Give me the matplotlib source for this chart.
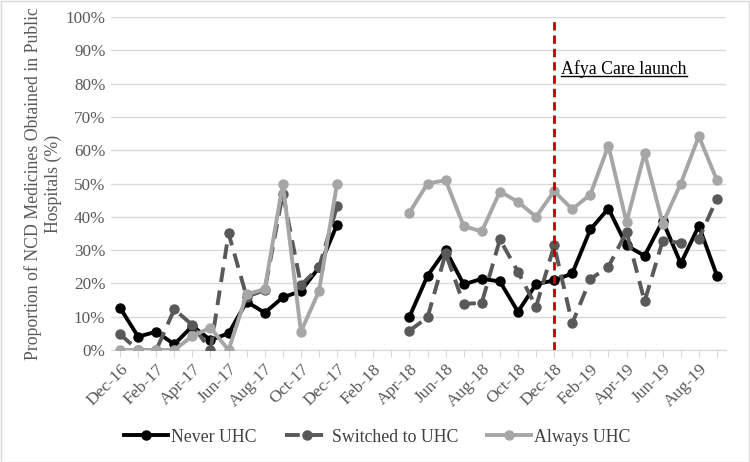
import numpy as np
import matplotlib
matplotlib.use('Agg')
import matplotlib.pyplot as plt
from matplotlib.lines import Line2D
from matplotlib.patches import Rectangle

nan = np.nan

months = ['Dec-16', 'Jan-17', 'Feb-17', 'Mar-17', 'Apr-17', 'May-17', 'Jun-17',
          'Jul-17', 'Aug-17', 'Sep-17', 'Oct-17', 'Nov-17', 'Dec-17', 'Jan-18',
          'Feb-18', 'Mar-18', 'Apr-18', 'May-18', 'Jun-18', 'Jul-18', 'Aug-18',
          'Sep-18', 'Oct-18', 'Nov-18', 'Dec-18', 'Jan-19', 'Feb-19', 'Mar-19',
          'Apr-19', 'May-19', 'Jun-19', 'Jul-19', 'Aug-19', 'Sep-19']

never_uhc = [12.7, 4.0, 5.5, 1.7, 7.2, 3.0, 5.0, 14.5, 11.2, 15.8, 17.7, 24.8, 37.7,
             nan, nan, nan,
             10.0, 22.3, 30.0, 19.7, 21.4, 20.6, 11.5, 19.8, 20.9, 23.0, 36.2, 42.5,
             31.4, 28.3, 38.8, 26.0, 37.3, 22.3]

switched_uhc = [4.7, 0.0, 0.0, 12.2, 7.5, 0.0, 35.0, 16.0, 18.0, 47.0, 19.5, 24.8, 43.2,
                nan, nan, nan,
                5.8, 9.8, 29.0, 13.8, 14.2, 33.2, 23.5, 13.0, 31.4, 8.0, 21.3, 25.0,
                35.5, 14.6, 32.8, 32.2, 33.4, 45.5]

always_uhc = [0.0, 0.0, 0.0, 0.0, 4.2, 6.7, 0.0, 16.7, 18.3, 50.0, 5.5, 17.7, 50.0,
              nan, nan, nan,
              41.3, 50.0, 51.0, 37.2, 35.6, 47.6, 44.5, 40.0, 47.7, 42.3, 46.7, 61.4,
              38.4, 59.1, 38.0, 50.0, 64.2, 51.0]

launch_month = 'Dec-18'

serif = ['Liberation Serif', 'DejaVu Serif']

def main():
    plt.rcParams['font.family'] = serif
    fig = plt.figure(figsize=(7.5, 4.62), dpi=100)
    ax = fig.add_axes([0.148, 0.2424, 0.82, 0.7206])

    x = np.arange(len(months))
    ax.plot(x, never_uhc, color='black', lw=2.8, marker='o', ms=6.5,
            label='Never UHC', zorder=3)
    ax.plot(x, switched_uhc, color='#595959', lw=2.8, marker='o', ms=6.5,
            dashes=(3.8, 2.2), label='Switched to UHC', zorder=3)
    ax.plot(x, always_uhc, color='#A6A6A6', lw=2.8, marker='o', ms=6.5,
            label='Always UHC', zorder=3)

    xl = months.index(launch_month)
    ax.plot([xl, xl], [0, 100], color='#C00000', lw=2, dashes=(3, 1.8), zorder=4)
    txt = ax.text(xl + 0.4, 84.3, 'Afya Care launch', fontsize=12.8,
                  ha='left', va='center', color='black')

    ax.set_xlim(-0.5, len(months) - 0.5)
    ax.set_ylim(0, 100)
    ax.set_yticks(np.arange(0, 101, 10))
    ax.set_yticklabels(['%d%%' % v for v in range(0, 101, 10)], fontsize=12.3,
                       color='#595959')
    ax.set_xticks(x)
    ax.set_xticklabels([m if i % 2 == 0 else '' for i, m in enumerate(months)],
                       rotation=45, ha='right', rotation_mode='anchor',
                       fontsize=12.6, color='#595959')
    ax.tick_params(axis='y', length=0, pad=4)
    ax.tick_params(axis='x', length=5, color='#D9D9D9', pad=3)
    ax.grid(axis='y', color='#D9D9D9', lw=1)
    ax.set_axisbelow(True)
    for s in ['top', 'right', 'left']:
        ax.spines[s].set_visible(False)
    ax.spines['bottom'].set_color('#D9D9D9')

    ax.set_ylabel('Proportion of NCD Medicines Obtained in Public\nHospitals (%)',
                  fontsize=12.8, color='#595959',
                  multialignment='center', linespacing=1.25)
    ax.yaxis.set_label_coords(-0.079, 0.5)

    fig.legend(loc='center', bbox_to_anchor=(0.503, 0.054), ncol=3, frameon=False,
               fontsize=12.8, handlelength=2.5, handletextpad=0.15, columnspacing=1.6,
               labelcolor='#404040')

    # underline the launch text
    fig.canvas.draw()
    bb = txt.get_window_extent().transformed(fig.transFigure.inverted())
    fig.add_artist(Line2D([bb.x0, bb.x1], [bb.y0 + 0.004, bb.y0 + 0.004],
                          color='black', lw=1))

    fig.add_artist(Rectangle((0.001, 0.001), 0.997, 0.997, transform=fig.transFigure,
                             fill=False, edgecolor='#D9D9D9', lw=1))

    fig.savefig('out.png', dpi=100)


if __name__ == "__main__":
    main()
